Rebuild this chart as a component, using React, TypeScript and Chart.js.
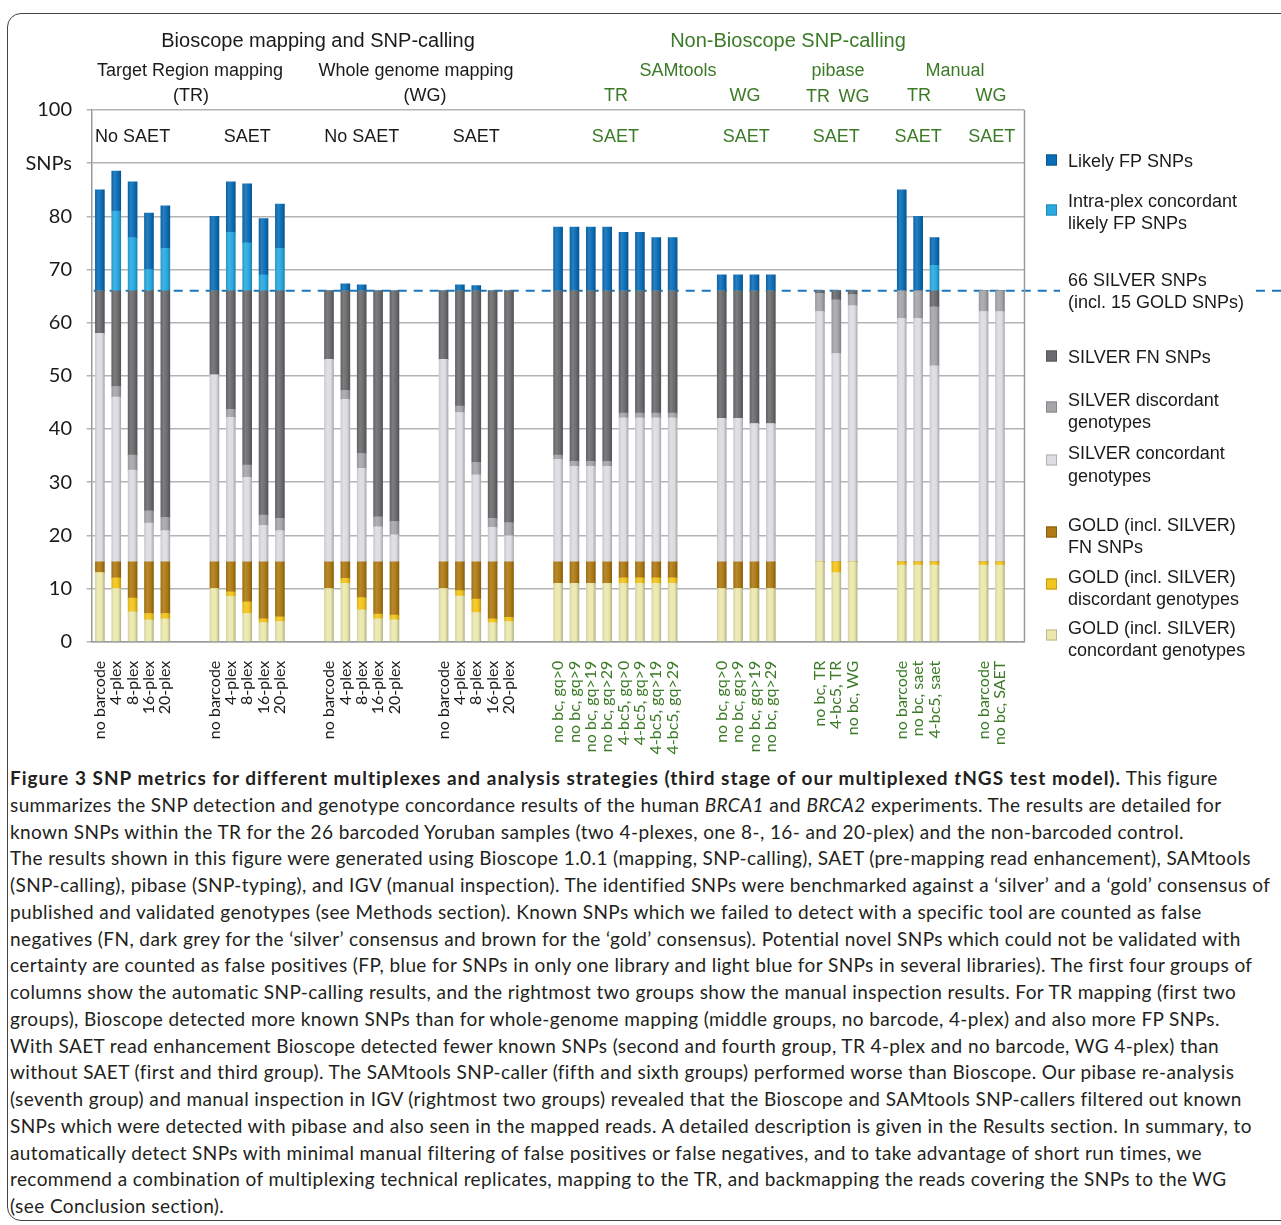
import React, { useEffect, useRef } from 'react';
import { Chart, registerables } from 'chart.js';

Chart.register(...registerables);

// ---------------- DATA ----------------
const groupSizes = [5, 5, 5, 5, 8, 4, 3, 3, 2];
const bioscopeGroupCount = 4;

const categories = [
  'no barcode', '4-plex', '8-plex', '16-plex', '20-plex',
  'no barcode', '4-plex', '8-plex', '16-plex', '20-plex',
  'no barcode', '4-plex', '8-plex', '16-plex', '20-plex',
  'no barcode', '4-plex', '8-plex', '16-plex', '20-plex',
  'no bc, gq>0', 'no bc, gq>9', 'no bc, gq>19', 'no bc, gq>29', '4-bc5, gq>0', '4-bc5, gq>9', '4-bc5, gq>19', '4-bc5, gq>29',
  'no bc, gq>0', 'no bc, gq>9', 'no bc, gq>19', 'no bc, gq>29',
  'no bc, TR', '4-bc5, TR', 'no bc, WG',
  'no barcode', 'no bc, saet', '4-bc5, saet',
  'no barcode', 'no bc, SAET',
];

const groupLabels = ['No SAET', 'SAET', 'No SAET', 'SAET', 'SAET', 'SAET', 'SAET', 'SAET', 'SAET'];

const goldConcordant = [
  13, 10, 5.6, 4.1, 4.3,
  10, 8.5, 5.3, 3.6, 3.8,
  10, 11, 6, 4.3, 4.1,
  10, 8.6, 5.5, 3.6, 3.8,
  11, 11, 11, 11, 11, 11, 11, 11,
  10, 10, 10, 10,
  15, 13, 15,
  14.4, 14.4, 14.4,
  14.4, 14.4,
];
const goldDiscordant = [
  0, 2, 2.6, 1.2, 1,
  0, 0.9, 2.2, 0.7, 0.9,
  0, 0.9, 2.3, 0.9, 0.9,
  0, 1, 2.5, 0.7, 0.8,
  0, 0, 0, 0, 1, 1, 1, 1,
  0, 0, 0, 0,
  0, 2, 0,
  0.6, 0.6, 0.6,
  0.6, 0.6,
];
const goldFN = [
  2, 3, 6.8, 9.7, 9.7,
  5, 5.6, 7.5, 10.7, 10.3,
  5, 3.1, 6.7, 9.8, 10,
  5, 5.4, 7, 10.7, 10.4,
  4, 4, 4, 4, 3, 3, 3, 3,
  5, 5, 5, 5,
  0, 0, 0,
  0, 0, 0,
  0, 0,
];
const silverConcordant = [
  43, 31, 17.3, 7.3, 5.9,
  35.2, 27.2, 15.9, 6.9, 5.9,
  38.1, 30.6, 17.6, 6.6, 5.1,
  38.1, 28.1, 16.4, 6.5, 4.9,
  19.3, 18, 18, 18, 27.1, 27.1, 27.1, 27.1,
  27, 27, 26, 26,
  47.1, 39.2, 48.2,
  45.8, 45.8, 36.9,
  47.1, 47.1,
];
const silverDiscordant = [
  0, 2, 2.8, 2.3, 2.5,
  0, 1.5, 2.3, 1.9, 2.3,
  0, 1.7, 2.8, 1.9, 2.5,
  0, 1.2, 2.3, 1.7, 2.5,
  0.8, 0.9, 0.9, 0.9, 0.9, 0.9, 0.9, 0.9,
  0, 0, 0, 0,
  3.4, 10.1, 2.1,
  5.2, 5.2, 11.1,
  3.9, 3.9,
];
const silverFN = [
  8, 18, 30.9, 41.4, 42.6,
  15.8, 22.3, 32.8, 42.2, 42.8,
  12.9, 18.7, 30.6, 42.5, 43.4,
  12.9, 21.7, 32.3, 42.8, 43.6,
  30.9, 32.1, 32.1, 32.1, 23, 23, 23, 23,
  24, 24, 25, 25,
  0.5, 1.7, 0.7,
  0, 0, 3,
  0, 0,
];
const intraplexFP = [
  0, 15, 10, 4, 8,
  0, 11, 9, 3, 8,
  0, 0, 0, 0, 0,
  0, 0, 0, 0, 0,
  0, 0, 0, 0, 0, 0, 0, 0,
  0, 0, 0, 0,
  0, 0, 0,
  0, 0, 4.8,
  0, 0,
];
const likelyFP = [
  19, 7.5, 10.5, 10.6, 8,
  14, 9.5, 11.1, 10.6, 8.3,
  0, 1.3, 1.1, 0, 0,
  0, 1.1, 1.0, 0, 0,
  12, 12, 12, 12, 11, 11, 10, 10,
  3, 3, 3, 3,
  0, 0, 0,
  19, 14, 5.2,
  0, 0,
];

const silverTotal = 66;
const yTickLabels = ['0', '10', '20', '30', '40', '50', '60', '70', '80', 'SNPs', '100'];

// ---------------- STYLE ----------------
const BLACK = '#1a1a1a';
const GREEN = '#3b7a26';
const COLORS = {
  likelyFP: '#0b6db6',
  intraFP: '#28a9e0',
  silverFN: '#6a6b6e',
  silverDisc: '#a4a6a9',
  silverConc: '#dcdde0',
  goldFN: '#ad7a13',
  goldDisc: '#f3c41c',
  goldConc: '#ebe8ae',
};

function shade(hex: string, amt: number) {
  const n = parseInt(hex.slice(1), 16);
  let r = (n >> 16) & 255, g = (n >> 8) & 255, b = n & 255;
  const t = amt < 0 ? 0 : 255;
  const p = Math.abs(amt);
  r = Math.round(r + (t - r) * p);
  g = Math.round(g + (t - g) * p);
  b = Math.round(b + (t - b) * p);
  return `rgb(${r},${g},${b})`;
}

function barFill(base: string) {
  return (c: any) => {
    if (c.type !== 'data') return base;
    const xs = c.chart.scales && c.chart.scales.x;
    if (!xs) return base;
    const x = xs.getPixelForValue(c.dataIndex);
    if (!isFinite(x)) return base;
    const g = c.chart.ctx.createLinearGradient(x - 4.5, 0, x + 4.5, 0);
    g.addColorStop(0, shade(base, -0.08));
    g.addColorStop(0.3, shade(base, 0.12));
    g.addColorStop(0.7, base);
    g.addColorStop(1, shade(base, -0.22));
    return g;
  };
}

// build slot arrays with spacers between groups
function buildSlots() {
  const labels: string[] = [];
  const labelColors: string[] = [];
  const index: (number | null)[] = [];
  const groupRanges: [number, number][] = [];
  let k = 0;
  groupSizes.forEach((size, gi) => {
    if (gi > 0) {
      for (let s = 0; s < 2; s++) { labels.push(''); labelColors.push(BLACK); index.push(null); }
    }
    const start = labels.length;
    for (let j = 0; j < size; j++) {
      labels.push(categories[k]);
      labelColors.push(gi < bioscopeGroupCount ? BLACK : GREEN);
      index.push(k);
      k++;
    }
    groupRanges.push([start, labels.length - 1]);
  });
  labels.push(''); labelColors.push(BLACK); index.push(null);
  return { labels, labelColors, index, groupRanges };
}

const headerTexts: [string, number, number, number, string][] = [
  ['Bioscope mapping and SNP-calling', 318, 41, 20, BLACK],
  ['Non-Bioscope SNP-calling', 788, 41, 20, GREEN],
  ['Target Region mapping', 190, 71, 18, BLACK],
  ['(TR)', 191, 96, 18, BLACK],
  ['Whole genome mapping', 416, 71, 18, BLACK],
  ['(WG)', 425, 96, 18, BLACK],
  ['SAMtools', 678, 71, 18, GREEN],
  ['TR', 616, 96, 18, GREEN],
  ['WG', 745, 96, 18, GREEN],
  ['pibase', 838, 71, 18, GREEN],
  ['TR', 818, 97, 18, GREEN],
  ['WG', 854, 97, 18, GREEN],
  ['Manual', 955, 71, 18, GREEN],
  ['TR', 919, 96, 18, GREEN],
  ['WG', 991, 96, 18, GREEN],
];

const legendItems: { color: string | null; lines: string[]; ys: number[]; my: number }[] = [
  { color: COLORS.likelyFP, lines: ['Likely FP SNPs'], ys: [162], my: 160 },
  { color: COLORS.intraFP, lines: ['Intra-plex concordant', 'likely FP SNPs'], ys: [202, 224], my: 210 },
  { color: null, lines: ['66 SILVER SNPs', '(incl. 15 GOLD SNPs)'], ys: [281, 303], my: 291 },
  { color: COLORS.silverFN, lines: ['SILVER FN SNPs'], ys: [358], my: 356 },
  { color: COLORS.silverDisc, lines: ['SILVER discordant', 'genotypes'], ys: [401, 423], my: 407 },
  { color: COLORS.silverConc, lines: ['SILVER concordant', 'genotypes'], ys: [454, 477], my: 460 },
  { color: COLORS.goldFN, lines: ['GOLD (incl. SILVER)', 'FN SNPs'], ys: [526, 548], my: 532 },
  { color: COLORS.goldDisc, lines: ['GOLD (incl. SILVER)', 'discordant genotypes'], ys: [578, 600], my: 584 },
  { color: COLORS.goldConc, lines: ['GOLD (incl. SILVER)', 'concordant genotypes'], ys: [629, 651], my: 635 },
];

export default function App() {
  const ref = useRef<HTMLCanvasElement | null>(null);

  useEffect(() => {
    if (!ref.current) return;
    const { labels, labelColors, index, groupRanges } = buildSlots();
    const expand = (arr: number[]) => index.map((i) => (i === null ? null : arr[i]));

    const series: [string, number[], string][] = [
      ['GOLD (incl. SILVER) concordant genotypes', goldConcordant, COLORS.goldConc],
      ['GOLD (incl. SILVER) discordant genotypes', goldDiscordant, COLORS.goldDisc],
      ['GOLD (incl. SILVER) FN SNPs', goldFN, COLORS.goldFN],
      ['SILVER concordant genotypes', silverConcordant, COLORS.silverConc],
      ['SILVER discordant genotypes', silverDiscordant, COLORS.silverDisc],
      ['SILVER FN SNPs', silverFN, COLORS.silverFN],
      ['Intra-plex concordant likely FP SNPs', intraplexFP, COLORS.intraFP],
      ['Likely FP SNPs', likelyFP, COLORS.likelyFP],
    ];

    const decor = {
      id: 'decor',
      beforeDatasetsDraw(chart: any) {
        const { ctx, chartArea, scales } = chart;
        const yy = scales.y.getPixelForValue(silverTotal);
        ctx.save();
        ctx.strokeStyle = '#1c76bd';
        ctx.lineWidth = 2;
        ctx.setLineDash([9, 7]);
        ctx.beginPath();
        ctx.moveTo(chartArea.left + 2, yy);
        ctx.lineTo(1060, yy);
        ctx.stroke();
        ctx.beginPath();
        ctx.moveTo(1256, yy);
        ctx.lineTo(1281, yy);
        ctx.stroke();
        ctx.restore();
      },
      afterDraw(chart: any) {
        const { ctx, chartArea, scales } = chart;
        ctx.save();
        // right border of plot frame
        ctx.strokeStyle = '#9a9a9a';
        ctx.lineWidth = 1.5;
        ctx.beginPath();
        ctx.moveTo(chartArea.right, chartArea.top);
        ctx.lineTo(chartArea.right, chartArea.bottom);
        ctx.stroke();

        ctx.textAlign = 'center';
        ctx.textBaseline = 'middle';
        headerTexts.forEach(([t, x, y, size, color]) => {
          ctx.font = `${size}px "Liberation Sans", Arial, sans-serif`;
          ctx.fillStyle = color;
          ctx.fillText(t, x, y);
        });
        // group labels inside plot
        const gy = scales.y.getPixelForValue(95);
        groupRanges.forEach(([a, b], gi) => {
          const cx = (scales.x.getPixelForValue(a) + scales.x.getPixelForValue(b)) / 2;
          ctx.font = '18px "Liberation Sans", Arial, sans-serif';
          ctx.fillStyle = gi < bioscopeGroupCount ? BLACK : GREEN;
          ctx.fillText(groupLabels[gi], cx, gy);
        });

        // legend
        ctx.textAlign = 'left';
        legendItems.forEach((it) => {
          if (it.color) {
            ctx.fillStyle = it.color;
            ctx.fillRect(1046, it.my - 5.5, 11, 11);
            ctx.strokeStyle = shade(it.color, -0.2);
            ctx.lineWidth = 1;
            ctx.strokeRect(1046.5, it.my - 5, 10, 10);
          }
          ctx.font = '18px "Liberation Sans", Arial, sans-serif';
          ctx.fillStyle = BLACK;
          it.lines.forEach((l, i) => ctx.fillText(l, 1068, it.ys[i]));
        });
        ctx.restore();
      },
    };

    const chart = new Chart(ref.current, {
      type: 'bar',
      data: {
        labels,
        datasets: series.map(([label, arr, color]) => ({
          label,
          data: expand(arr),
          backgroundColor: barFill(color),
          borderWidth: 0,
          barThickness: 9,
        })) as any,
      },
      options: {
        responsive: false,
        animation: false,
        devicePixelRatio: 1,
        layout: { padding: { left: 0, top: 110, right: 1281 - 1024.5, bottom: 0 } },
        plugins: { legend: { display: false }, tooltip: { enabled: false } },
        scales: {
          x: {
            stacked: true,
            grid: { display: false },
            border: { display: true, color: '#9a9a9a', width: 1.5 },
            ticks: {
              autoSkip: false,
              maxRotation: 90,
              minRotation: 90,
              padding: 11,
              font: { family: 'Lato', size: 16 },
              color: (c: any) => labelColors[c.index] || BLACK,
            },
            afterFit: (s: any) => { s.height = 118.3; },
          },
          y: {
            stacked: true,
            min: 0,
            max: 100,
            ticks: {
              stepSize: 10,
              padding: 14.7,
              font: { family: 'Lato', size: 20 },
              color: BLACK,
              callback: (_v: any, i: number) => yTickLabels[i],
            },
            grid: { color: '#b3b3b3', lineWidth: 1.5, tickLength: 5 },
            border: { color: '#9a9a9a', width: 1.5 },
            afterFit: (s: any) => { s.width = 91.7; },
          },
        },
      } as any,
      plugins: [decor],
    });
    return () => chart.destroy();
  }, []);

  const cap: React.CSSProperties = {
    position: 'absolute',
    left: 10,
    top: 765,
    fontFamily: 'Lato, "Open Sans", sans-serif',
    fontSize: 19,
    letterSpacing: '0.4px',
    lineHeight: '26.75px',
    color: '#231f20',
    whiteSpace: 'nowrap',
  };

  return (
    <div style={{ position: 'fixed', left: 0, top: 0, width: 1281, height: 1225, overflow: 'hidden', background: '#fff' }}>
      <div style={{ position: 'absolute', left: 7, top: 13, width: 1330, height: 1208, border: '1.5px solid #444', borderRadius: 14, boxSizing: 'border-box' }} />
      <canvas ref={ref} width={1281} height={760} style={{ position: 'absolute', left: 0, top: 0, width: 1281, height: 760 }} />
      <div style={cap}>
        <div><b style={{ letterSpacing: '1px' }}>Figure 3 SNP metrics for different multiplexes and analysis strategies (third stage of our multiplexed <i>t</i>NGS test model).</b> This figure</div>
        <div>summarizes the SNP detection and genotype concordance results of the human <i>BRCA1</i> and <i>BRCA2</i> experiments. The results are detailed for</div>
        <div>known SNPs within the TR for the 26 barcoded Yoruban samples (two 4-plexes, one 8-, 16- and 20-plex) and the non-barcoded control.</div>
        <div>The results shown in this figure were generated using Bioscope 1.0.1 (mapping, SNP-calling), SAET (pre-mapping read enhancement), SAMtools</div>
        <div>(SNP-calling), pibase (SNP-typing), and IGV (manual inspection). The identified SNPs were benchmarked against a ‘silver’ and a ‘gold’ consensus of</div>
        <div>published and validated genotypes (see Methods section). Known SNPs which we failed to detect with a specific tool are counted as false</div>
        <div>negatives (FN, dark grey for the ‘silver’ consensus and brown for the ‘gold’ consensus). Potential novel SNPs which could not be validated with</div>
        <div>certainty are counted as false positives (FP, blue for SNPs in only one library and light blue for SNPs in several libraries). The first four groups of</div>
        <div>columns show the automatic SNP-calling results, and the rightmost two groups show the manual inspection results. For TR mapping (first two</div>
        <div>groups), Bioscope detected more known SNPs than for whole-genome mapping (middle groups, no barcode, 4-plex) and also more FP SNPs.</div>
        <div>With SAET read enhancement Bioscope detected fewer known SNPs (second and fourth group, TR 4-plex and no barcode, WG 4-plex) than</div>
        <div>without SAET (first and third group). The SAMtools SNP-caller (fifth and sixth groups) performed worse than Bioscope. Our pibase re-analysis</div>
        <div>(seventh group) and manual inspection in IGV (rightmost two groups) revealed that the Bioscope and SAMtools SNP-callers filtered out known</div>
        <div>SNPs which were detected with pibase and also seen in the mapped reads. A detailed description is given in the Results section. In summary, to</div>
        <div>automatically detect SNPs with minimal manual filtering of false positives or false negatives, and to take advantage of short run times, we</div>
        <div>recommend a combination of multiplexing technical replicates, mapping to the TR, and backmapping the reads covering the SNPs to the WG</div>
        <div>(see Conclusion section).</div>
      </div>
    </div>
  );
}
